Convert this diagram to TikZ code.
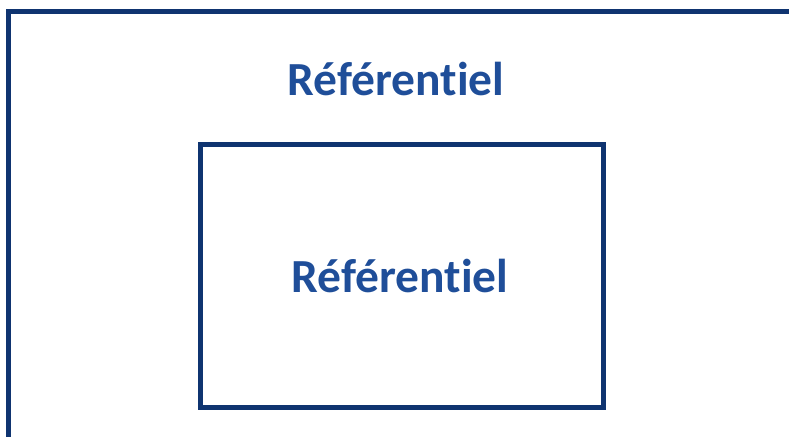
\documentclass[tikz,border=0pt]{standalone}
\usepackage{fontspec}
\setmainfont[Ligatures=NoCommon]{Carlito}
\usetikzlibrary{positioning}
\definecolor{framecol}{HTML}{0F3470}
\definecolor{labelcol}{HTML}{1F4E99}

\begin{document}
\begin{tikzpicture}[x=1pt,y=-1pt,
    frame/.style={draw=framecol,line width=5pt},
    title/.style={text=labelcol,font=\bfseries\fontsize{47.5}{50}\selectfont}]
		% page
		\useasboundingbox (0,0) rectangle (789,436);
		\clip (0,0) rectangle (789,436);

		% outer referential
		\draw[frame] (8.5,11.5) rectangle (820,470);
		\node[title] (outerlbl) at (396,79) {Référentiel};

		% inner referential
		\node[frame,rectangle,minimum width=403pt,minimum height=262.5pt] (inner) at (402,275.75) {};
		\node[title] (innerlbl) at (400,276) {Référentiel};
\end{tikzpicture}
\end{document}
